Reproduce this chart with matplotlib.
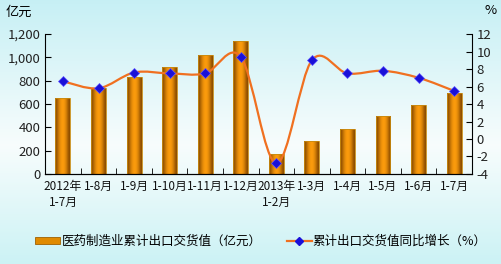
# export value chart: bars (left axis) + smoothed growth line (right axis)
import matplotlib
matplotlib.use('Agg')
import matplotlib.pyplot as plt
import numpy as np
from matplotlib.path import Path
from matplotlib.patches import PathPatch, Rectangle
from matplotlib.lines import Line2D

plt.rcParams['font.family'] = ['Noto Sans CJK SC', 'DejaVu Sans']

# data
months = ['2012年\n1-7月', '1-8月', '1-9月', '1-10月', '1-11月', '1-12月',
          '2013年\n1-2月', '1-3月', '1-4月', '1-5月', '1-6月', '1-7月']
export_value = [650, 740, 830, 920, 1020, 1140, 170, 280, 385, 495, 595, 695]
growth = [6.6, 5.8, 7.6, 7.5, 7.5, 9.4, -2.8, 9.0, 7.5, 7.8, 7.0, 5.5]
left_ticks = [0, 200, 400, 600, 800, 1000, 1200]
right_ticks = [-4, -2, 0, 2, 4, 6, 8, 10, 12]
bar_label = '医药制造业累计出口交货值（亿元）'
line_label = '累计出口交货值同比增长（%）'

fig = plt.figure(figsize=(5.02, 2.64), dpi=100)

# background gradient: cyan top, pale middle, cyan bottom
bg = fig.add_axes([0, 0, 1, 1], zorder=-10)
t = np.linspace(0, 1, 256)
top = np.array([0.78, 0.94, 0.96])
mid = np.array([0.97, 0.99, 0.99])
bot = np.array([0.80, 0.95, 0.96])
w = np.clip(t / 0.55, 0, 1)[:, None]
w2 = np.clip((t - 0.55) / 0.45, 0, 1)[:, None]
grad = np.where(t[:, None] < 0.55, top * (1 - w) + mid * w, mid * (1 - w2) + bot * w2)
bg.imshow(grad[:, None, :], aspect='auto', extent=[0, 1, 0, 1])
bg.axis('off')

ax = fig.add_axes([0.09, 0.341, 0.85, 0.53])
ax.patch.set_alpha(0)
x = np.arange(len(months))

# bars with horizontal cylinder-like shading
bars = ax.bar(x, export_value, width=0.42, color='none', edgecolor='#c88a10', linewidth=0.6, zorder=2)
shade = np.array([0.0, 0.45, 0.85, 1.0, 0.9, 0.55, 0.0])
c_dark = np.array([0.55, 0.30, 0.0])
c_light = np.array([1.0, 0.62, 0.05])
row = c_dark * (1 - shade[:, None]) + c_light * shade[:, None]
for b in bars:
    x0, y0 = b.get_x(), b.get_y()
    im = ax.imshow(row[None, :, :], aspect='auto', interpolation='bicubic',
                   extent=[x0, x0 + b.get_width(), y0, y0 + b.get_height()], zorder=1)
    im.set_clip_path(b)

ax.set_xlim(-0.5, len(months) - 0.5)
ax.set_ylim(0, 1200)
ax.set_yticks(left_ticks)
ax.set_yticklabels(['{:,}'.format(v) for v in left_ticks], fontsize=9.5, color='#222222')
ax.set_xticks(x)
ax.set_xticklabels(months, fontsize=8.5, color='#111111', linespacing=1.3)
ax.tick_params(axis='x', length=0, pad=4)
ax.set_xticks(np.arange(-0.5, len(months)), minor=True)
ax.tick_params(axis='x', which='minor', direction='in', length=4)
ax.tick_params(axis='y', direction='in', length=4)
ax.spines['top'].set_visible(False)
ax.spines['right'].set_visible(False)

# right axis with smoothed line
ax2 = ax.twinx()
ax2.set_ylim(-4, 12)
ax2.set_yticks(right_ticks)
ax2.set_yticklabels([str(v) for v in right_ticks], fontsize=9.5, color='#222222')
ax2.tick_params(axis='y', direction='in', length=4)
ax2.spines['top'].set_visible(False)
ax2.spines['left'].set_visible(False)

# catmull-rom style smoothing as bezier segments
pts = np.column_stack([x, growth]).astype(float)
verts = [pts[0]]
codes = [Path.MOVETO]
n = len(pts)
for i in range(n - 1):
    p0 = pts[i - 1] if i > 0 else pts[i]
    p1, p2 = pts[i], pts[i + 1]
    p3 = pts[i + 2] if i + 2 < n else pts[i + 1]
    verts += [p1 + (p2 - p0) / 6, p2 - (p3 - p1) / 6, p2]
    codes += [Path.CURVE4] * 3
ax2.add_patch(PathPatch(Path(verts, codes), fill=False, edgecolor='#f07020', linewidth=1.6, zorder=3))
ax2.plot(x, growth, linestyle='none', marker='D', markersize=5.5, color='#1a10d8',
         markeredgecolor='#5a50ff', markeredgewidth=0.5, zorder=4)

# axis unit labels
fig.text(0.012, 0.955, '亿元', fontsize=9.5, va='center', ha='left')
fig.text(0.965, 0.962, '%', fontsize=9.5, va='center', ha='left')

# legend
h1 = Rectangle((0, 0), 1, 1, facecolor='#e08a00', edgecolor='#a06000', linewidth=0.6)
h2 = Line2D([], [], color='#f07020', linewidth=1.6, marker='D', markersize=4,
            markerfacecolor='#1a10d8', markeredgecolor='#1a10d8')
fig.legend([h1, h2], [bar_label, line_label], loc='center', bbox_to_anchor=(0.52, 0.085),
           ncol=2, frameon=False, fontsize=9, handlelength=2.0, handleheight=0.5,
           handletextpad=0.1, columnspacing=2.0)

plt.savefig('out.png', dpi=100)
